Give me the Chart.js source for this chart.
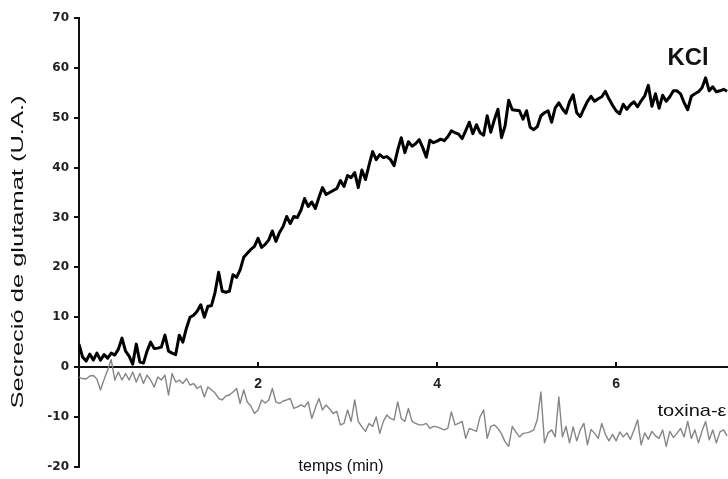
<!DOCTYPE html>
<html lang="ca">
<head>
<meta charset="UTF-8">
<title>Secreció de glutamat</title>
<script src="https://cdn.jsdelivr.net/npm/chart.js"></script>
<style>
  body { margin: 0; background: #fff; }
  #wrap { width: 728px; height: 479px; }
</style>
</head>
<body>
<div id="wrap"><canvas id="chart" width="728" height="479"></canvas></div>
<script>
// temps (min), one sample every 0.04 min
const times = [
  0,0.04,0.08,0.12,0.16,0.2,0.24,0.28,0.32,0.36,
  0.4,0.44,0.48,0.52,0.56,0.6,0.64,0.68,0.72,0.76,
  0.8,0.84,0.88,0.92,0.96,1,1.04,1.08,1.12,1.16,
  1.2,1.24,1.28,1.32,1.36,1.4,1.44,1.48,1.52,1.56,
  1.6,1.64,1.68,1.72,1.76,1.8,1.84,1.88,1.92,1.96,
  2,2.04,2.08,2.12,2.16,2.2,2.24,2.28,2.32,2.36,
  2.4,2.44,2.48,2.52,2.56,2.6,2.64,2.68,2.72,2.76,
  2.8,2.84,2.88,2.92,2.96,3,3.04,3.08,3.12,3.16,
  3.2,3.24,3.28,3.32,3.36,3.4,3.44,3.48,3.52,3.56,
  3.6,3.64,3.68,3.72,3.76,3.8,3.84,3.88,3.92,3.96,
  4,4.04,4.08,4.12,4.16,4.2,4.24,4.28,4.32,4.36,
  4.4,4.44,4.48,4.52,4.56,4.6,4.64,4.68,4.72,4.76,
  4.8,4.84,4.88,4.92,4.96,5,5.04,5.08,5.12,5.16,
  5.2,5.24,5.28,5.32,5.36,5.4,5.44,5.48,5.52,5.56,
  5.6,5.64,5.68,5.72,5.76,5.8,5.84,5.88,5.92,5.96,
  6,6.04,6.08,6.12,6.16,6.2,6.24,6.28,6.32,6.36,
  6.4,6.44,6.48,6.52,6.56,6.6,6.64,6.68,6.72,6.76,
  6.8,6.84,6.88,6.92,6.96,7,7.04,7.08,7.12,7.16,
  7.2,7.24
];

// KCl trace (U.A.)
const kcl = [
  4.6,2.0,1.2,2.6,1.4,2.8,1.4,2.5,1.8,2.8,
  2.4,3.6,5.8,3.2,2.2,0.6,4.6,1.0,0.8,3.2,
  5.0,3.7,3.8,4.0,6.4,3.2,2.8,2.5,6.4,5.0,
  7.8,10.0,10.4,11.2,12.5,10.0,12.2,12.3,15.0,19.0,
  15.2,15.0,15.2,18.5,18.0,19.5,22.0,22.8,23.6,24.2,
  25.8,24.0,24.6,25.5,27.3,25.2,27.0,28.2,30.2,28.8,
  30.2,30.0,31.5,33.8,32.2,33.1,31.8,34.0,36.0,34.6,
  35.0,35.4,35.8,37.4,36.2,38.4,38.0,39.0,36.0,39.5,
  37.6,40.5,43.2,41.6,42.6,42.0,42.2,41.6,40.4,43.5,
  46.0,43.0,45.2,44.3,44.8,45.6,44.0,42.1,45.5,45.0,
  45.3,45.7,45.4,46.2,47.4,47.0,46.7,45.8,47.4,49.1,
  46.8,48.6,47.0,46.5,50.4,47.1,49.6,51.7,46.0,48.4,
  53.5,51.6,51.5,51.4,49.7,51.4,48.1,47.6,48.2,50.4,
  51.0,51.4,49.1,52.0,53.0,51.8,50.9,53.2,54.6,51.0,
  50.2,51.8,53.3,54.3,53.3,53.8,54.2,55.3,53.8,52.5,
  51.4,50.8,52.7,51.7,52.6,53.2,52.2,53.4,54.4,56.5,
  52.3,54.8,51.9,54.5,53.3,54.2,55.4,55.4,54.8,53.0,
  51.6,54.3,54.8,55.2,56.0,58.0,55.4,56.2,55.2,55.4,
  55.7,55.3
];

// toxina-ε trace (U.A.)
const toxina = [
  -2.0,-2.3,-2.4,-1.8,-1.7,-2.4,-4.6,-2.5,-0.6,1.5,
  -2.6,-1.0,-2.6,-1.3,-2.6,-1.0,-3.0,-1.3,-3.3,-1.6,
  -2.6,-4.0,-2.0,-2.6,-1.6,-5.6,-1.3,-3.0,-2.6,-3.3,
  -2.3,-3.6,-3.3,-4.3,-3.8,-6.0,-4.0,-4.6,-5.2,-6.3,
  -6.6,-5.8,-5.6,-5.0,-4.3,-7.3,-4.6,-7.0,-7.8,-9.3,
  -8.6,-6.6,-7.2,-6.6,-4.3,-7.0,-7.3,-6.8,-6.6,-6.3,
  -8.3,-8.0,-7.6,-8.0,-7.0,-10.3,-8.2,-6.3,-8.6,-7.6,
  -8.4,-9.3,-8.9,-11.6,-11.3,-8.6,-10.9,-6.6,-10.9,-12.0,
  -12.9,-11.3,-11.9,-10.0,-13.3,-10.9,-9.6,-10.3,-10.6,-7.0,
  -10.3,-10.9,-8.3,-10.9,-11.3,-11.6,-11.6,-11.3,-12.3,-11.9,
  -12.0,-12.3,-12.6,-12.3,-9.0,-11.6,-11.3,-10.9,-14.3,-12.3,
  -12.6,-12.9,-10.0,-8.6,-14.3,-11.9,-11.6,-12.3,-13.4,-15.0,
  -15.9,-11.9,-13.0,-14.0,-13.3,-13.2,-13.0,-12.6,-10.5,-5.0,
  -15.2,-13.2,-12.6,-14.0,-6.0,-14.0,-11.9,-15.2,-12.0,-14.8,
  -12.6,-11.3,-15.6,-12.5,-13.3,-14.3,-11.3,-13.5,-14.8,-13.5,
  -14.8,-13.0,-14.0,-13.2,-14.5,-12.6,-10.6,-15.6,-13.2,-14.5,
  -12.9,-13.8,-14.3,-12.6,-15.9,-12.9,-14.1,-13.3,-12.3,-14.0,
  -10.9,-14.3,-12.6,-15.2,-12.8,-10.9,-14.6,-12.6,-15.2,-13.0,
  -12.6,-13.8
];

const xTicks = [2, 4, 6];
const yMin = -20, yMax = 70, yStep = 10;
const xMin = 0, xMax = 7.25;

function points(vals) {
  return times.map((t, i) => ({ x: t, y: vals[i] }));
}

// stretches a text to a given length along its own direction
function fitText(ctx, text, cx, cy, length, rot) {
  ctx.save();
  ctx.translate(cx, cy);
  ctx.rotate(rot);
  const w = ctx.measureText(text).width;
  ctx.scale(length / w, 1);
  ctx.fillText(text, 0, 0);
  ctx.restore();
}

const extras = {
  id: 'extras',
  afterDraw(chart) {
    const ctx = chart.ctx;
    const xs = chart.scales.x, ys = chart.scales.y;
    const y0 = ys.getPixelForValue(0);
    ctx.save();
    // x ticks point up, above the axis line
    ctx.strokeStyle = '#111';
    ctx.lineWidth = 2;
    xTicks.forEach(v => {
      const px = Math.round(xs.getPixelForValue(v));
      ctx.beginPath();
      ctx.moveTo(px, y0);
      ctx.lineTo(px, y0 - 5);
      ctx.stroke();
    });

    ctx.fillStyle = '#111';
    ctx.textAlign = 'center';
    ctx.textBaseline = 'middle';

    ctx.font = '16px "Liberation Sans", Arial, sans-serif';
    fitText(ctx, 'Secreció de glutamat (U.A.)', 19, 252, 313, -Math.PI / 2);
    fitText(ctx, 'temps (min)', 341, 467, 85, 0);

    ctx.font = 'bold 24px "Liberation Sans", Arial, sans-serif';
    fitText(ctx, 'KCl', 688, 58, 41, 0);

    ctx.font = '17px "Liberation Sans", Arial, sans-serif';
    fitText(ctx, 'toxina-ε', 692, 411, 69, 0);
    ctx.restore();
  }
};

new Chart(document.getElementById('chart'), {
  type: 'line',
  data: {
    datasets: [{
      label: 'KCl',
      data: points(kcl),
      borderColor: '#000',
      borderWidth: 3,
      pointRadius: 0,
      borderJoinStyle: 'round',
      tension: 0,
      order: 1
    }, {
      label: 'toxina-ε',
      data: points(toxina),
      borderColor: '#858585',
      borderWidth: 1.4,
      pointRadius: 0,
      borderJoinStyle: 'round',
      tension: 0,
      order: 2
    }]
  },
  options: {
    responsive: false,
    animation: false,
    layout: { padding: { top: 18, bottom: 8, left: 0, right: 0 } },
    plugins: {
      legend: { display: false },
      tooltip: { enabled: false }
    },
    scales: {
      x: {
        type: 'linear',
        position: { y: 0 },
        min: xMin,
        max: xMax,
        afterBuildTicks: s => { s.ticks = xTicks.map(v => ({ value: v })); },
        grid: { display: false },
        border: { display: true, color: '#111', width: 2 },
        ticks: {
          padding: 1,
          color: '#222',
          font: { family: '"Liberation Sans", Arial, sans-serif', size: 14, weight: 'bold' }
        }
      },
      y: {
        min: yMin,
        max: yMax,
        afterFit: s => { s.width = 79; },
        grid: {
          display: true,
          drawOnChartArea: false,
          drawTicks: true,
          tickLength: 5,
          color: '#111',
          lineWidth: 2
        },
        border: { display: true, color: '#111', width: 2 },
        ticks: {
          stepSize: yStep,
          padding: 5,
          color: '#222',
          font: { family: '"DejaVu Sans", sans-serif', size: 12, weight: 'bold' }
        }
      }
    }
  },
  plugins: [extras]
});
</script>
</body>
</html>
